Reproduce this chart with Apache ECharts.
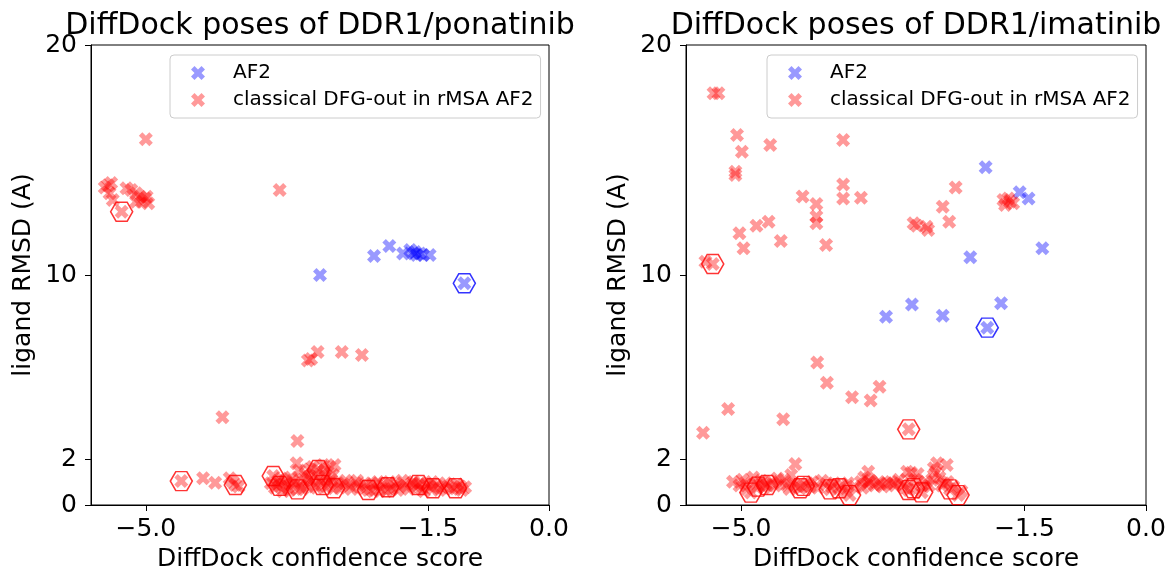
<!DOCTYPE html>
<html><head><meta charset="utf-8">
<script src="https://cdn.jsdelivr.net/npm/echarts@6/dist/echarts.min.js"></script>
<style>html,body{margin:0;padding:0;background:#fff}#c{width:1168px;height:573px}</style>
</head><body><div id="c"></div>
<script>
// ---------- data ----------
const panelTitles = ['DiffDock poses of DDR1/ponatinib', 'DiffDock poses of DDR1/imatinib'];
const seriesNames = ['AF2', 'classical DFG-out in rMSA AF2'];
const xTickValues = [-5.0, -1.5, 0.0];
const yTickValues = [0, 2, 10, 20];
const xName = 'DiffDock confidence score';
const yName = 'ligand RMSD (A)';

// ponatinib panel
const ponAF2 = [[-2.84,10.0],[-2.17,10.83],[-1.98,11.26],[-1.81,10.94],[-1.72,11.09],[-1.68,10.94],
  [-1.64,10.87],[-1.60,10.94],[-1.56,10.87],[-1.48,10.87],[-1.66,11.0]];
const ponAF2Top = [[-1.05,9.64]];
const ponDFG = [[-5.47,13.9],[-5.43,14.0],[-5.51,13.8],[-5.45,13.55],[-5.41,13.26],[-5.24,13.77],
  [-5.18,13.7],[-5.12,13.55],[-5.07,13.4],[-5.01,13.33],[-4.97,13.12],[-5.05,13.19],[-5.12,13.19],
  [-4.99,13.4],[-3.34,13.7],[-5.0,15.9],
  [-2.99,6.28],[-2.95,6.35],[-2.87,6.65],[-2.57,6.65],[-2.32,6.52],
  [-4.05,3.81],[-3.12,2.78],
  [-4.29,1.16],[-4.14,0.97],[-3.96,1.16],[-3.92,1.0],[-3.85,0.80],[-3.45,0.95],[-3.40,0.75],
  [-3.36,1.05],[-3.30,0.60],[-3.27,1.00],[-3.24,0.78],[-3.20,1.20],[-3.16,0.95],[-3.13,1.81],
  [-3.10,1.50],[-3.08,0.85],[-3.05,1.10],[-3.02,1.35],[-3.00,0.80],[-2.97,1.55],[-2.95,1.05],
  [-2.92,0.90],[-2.89,1.30],[-2.83,1.05],[-2.80,1.74],[-2.77,1.25],[-2.74,0.95],[-2.72,1.65],
  [-2.70,1.10],[-2.66,1.74],[-2.62,0.95],[-2.55,0.90],[-2.48,0.85],[-2.40,0.95],[-2.35,0.80],
  [-2.30,0.70],[-2.20,0.95],[-2.15,0.80],[-2.10,0.65],[-2.05,0.90],[-1.95,0.70],[-1.90,0.95],
  [-1.85,0.80],[-1.78,0.85],[-1.70,0.95],[-1.65,0.80],[-1.58,0.70],[-1.52,0.90],[-1.48,0.80],
  [-1.40,0.85],[-1.32,0.75],[-1.25,0.80],[-1.20,0.70],[-1.10,0.80],[-1.04,0.77],
  [-3.38,0.90],[-3.32,1.15],[-3.22,0.65],[-3.18,1.05],[-3.06,0.70],[-2.98,1.20],[-2.93,1.65],
  [-2.88,0.75],[-2.78,1.50],[-2.76,0.80],[-2.68,1.30],[-2.60,0.75],[-2.52,1.05],[-2.45,0.70],
  [-2.38,1.05],[-2.27,0.90],[-2.18,0.60],[-2.12,1.00],[-2.02,0.60],[-1.98,1.00],[-1.88,0.65],
  [-1.82,1.05],[-1.74,0.70],[-1.68,1.00],[-1.60,0.95],[-1.55,0.60],[-1.45,1.00],[-1.36,0.65],
  [-1.28,0.95],[-1.14,0.90],[-1.08,0.65]];
const ponDFGTop = [[-5.30,12.75],[-4.56,1.04],[-3.89,0.87],[-3.42,1.26],[-3.34,0.83],[-3.12,0.68],
  [-2.86,1.52],[-2.81,0.87],[-2.67,0.73],[-2.24,0.65],[-2.00,0.77],[-1.62,0.87],[-1.44,0.73],[-1.16,0.73]];

// imatinib panel
const imaAF2 = [[-3.21,8.19],[-2.89,8.72],[-2.51,8.23],[-1.79,8.77],[-2.17,10.77],[-1.98,14.68],
  [-1.56,13.6],[-1.45,13.33],[-1.28,11.16]];
const imaAF2Top = [[-1.96,7.71]];
const imaDFG = [[-5.34,17.9],[-5.28,17.9],[-5.05,16.09],[-4.99,15.36],[-5.07,14.49],[-5.07,14.35],
  [-4.64,15.65],[-3.74,15.87],[-5.02,11.81],[-4.97,11.16],[-4.81,12.14],[-4.66,12.32],[-4.51,11.48],
  [-4.24,13.41],[-4.07,13.09],[-4.07,12.54],[-4.07,12.25],[-3.95,11.3],[-3.74,13.94],[-3.74,13.33],
  [-3.52,13.36],[-2.87,12.25],[-2.83,12.14],[-2.71,12.1],[-2.69,11.96],[-2.51,12.97],[-2.43,12.32],
  [-2.35,13.8],[-1.76,13.26],[-1.70,13.33],[-1.64,13.12],[-1.68,13.19],[-1.74,13.04],
  [-5.44,10.58],[-5.47,3.14],[-5.16,4.17],[-4.48,3.73],[-4.06,6.2],[-3.94,5.32],[-3.63,4.68],
  [-3.40,4.54],[-3.29,5.14],
  [-5.10,1.01],[-5.02,0.85],[-4.98,1.10],[-4.93,0.70],[-4.85,1.20],[-4.82,0.95],[-4.75,1.05],
  [-4.70,0.90],[-4.62,1.00],[-4.58,0.85],[-4.52,0.95],[-4.47,1.10],[-4.43,0.85],[-4.38,1.30],
  [-4.35,0.95],[-4.33,1.78],[-4.30,0.80],[-4.18,0.95],[-4.12,1.00],[-4.05,0.75],[-4.00,1.05],
  [-3.95,0.90],[-3.85,0.95],[-3.75,0.85],[-3.70,0.60],[-3.60,0.80],[-3.52,1.00],[-3.48,1.20],
  [-3.45,0.90],[-3.43,1.45],[-3.40,1.05],[-3.35,0.85],[-3.30,1.00],[-3.25,0.80],[-3.20,0.95],
  [-3.15,1.00],[-3.10,0.85],[-3.05,1.10],[-3.00,0.90],[-2.95,1.45],[-2.90,1.40],[-2.82,1.35],
  [-2.72,1.00],[-2.68,0.85],[-2.62,1.60],[-2.58,1.81],[-2.55,1.20],[-2.50,0.95],[-2.46,1.74],
  [-2.38,0.80],[-2.28,0.60],
  [-4.95,0.95],[-4.72,0.75],[-4.55,1.15],[-4.40,0.70],[-4.15,0.80],[-3.88,0.80],[-3.68,0.95],
  [-3.50,0.75],[-3.42,1.00],[-3.28,0.90],[-3.12,0.95],[-2.98,0.75],[-2.85,1.10],[-2.75,0.80],
  [-2.64,1.10],[-2.60,1.40],[-2.52,0.85],[-2.45,1.00]];
const imaDFGTop = [[-5.35,10.48],[-2.93,3.29],[-4.88,0.54],[-4.79,0.80],[-4.68,0.87],[-4.27,0.73],
  [-4.23,0.83],[-3.90,0.68],[-3.79,0.73],[-3.66,0.43],[-2.93,0.65],[-2.87,0.73],[-2.77,0.55],
  [-2.42,0.68],[-2.32,0.43]];

// ---------- styling ----------
const FONT = 'DejaVu Sans';
const XPATH = 'path://M6,0L4,2L2,0L0,2L2,4L0,6L2,8L4,6L6,8L8,6L6,4L8,2Z';
const HEXPATH = 'path://M0,0.866L0.5,0L1.5,0L2,0.866L1.5,1.732L0.5,1.732Z';
const AF2_FILL = 'rgba(0,0,255,0.5)', DFG_FILL = 'rgba(255,0,0,0.5)';

const grids = [
  {left: 91, top: 45, width: 458, height: 460},
  {left: 686, top: 45, width: 460, height: 460}
];
const panels = [
  {af2: ponAF2, af2Top: ponAF2Top, dfg: ponDFG, dfgTop: ponDFGTop},
  {af2: imaAF2, af2Top: imaAF2Top, dfg: imaDFG, dfgTop: imaDFGTop}
];

function fmtX(v){ if (Math.abs(v) < 1e-9) return '0.0'; return (v < 0 ? '\u2212' : '') + Math.abs(v).toFixed(1); }

const option = {
  animation: false,
  backgroundColor: '#fff',
  grid: grids.map(g => Object.assign({show: true, borderColor: '#000', borderWidth: 1,
    backgroundColor: 'transparent', containLabel: false, outerBoundsMode: 'none'}, g)),
  xAxis: grids.map((g, i) => ({
    type: 'value', gridIndex: i, min: -5.68, max: 0,
    name: xName, nameLocation: 'middle', nameGap: 39,
    nameTextStyle: {fontFamily: FONT, fontSize: 25, color: '#000'},
    axisLine: {show: true, onZero: false, lineStyle: {color: '#000', width: 1}},
    axisTick: {show: true, length: 6, customValues: xTickValues, lineStyle: {color: '#000', width: 1}},
    axisLabel: {show: true, customValues: xTickValues, formatter: fmtX, margin: 12,
      fontFamily: FONT, fontSize: 25, color: '#000'},
    splitLine: {show: false}
  })),
  yAxis: grids.map((g, i) => ({
    type: 'value', gridIndex: i, min: 0, max: 20,
    name: yName, nameLocation: 'middle', nameGap: 55, nameRotate: 90,
    nameTextStyle: {fontFamily: FONT, fontSize: 25, color: '#000'},
    axisLine: {show: true, onZero: false, lineStyle: {color: '#000', width: 1}},
    axisTick: {show: true, length: 6, customValues: yTickValues, lineStyle: {color: '#000', width: 1}},
    axisLabel: {show: true, customValues: yTickValues, margin: 14,
      fontFamily: FONT, fontSize: 25, color: '#000'},
    splitLine: {show: false}
  })),
  legend: grids.map((g, i) => ({
    orient: 'vertical', left: i === 0 ? 170 : 767, top: 55,
    data: seriesNames.map(n => ({name: n, icon: XPATH})),
    itemWidth: 14, itemHeight: 14, itemGap: 7,
    padding: [8, 7, 8, 21],
    borderColor: '#cccccc', borderWidth: 1, borderRadius: 4,
    backgroundColor: 'rgba(255,255,255,0.8)',
    selectedMode: false,
    textStyle: {fontFamily: FONT, fontSize: 20, lineHeight: 20, color: '#000', padding: [0, 0, 0, 23]}
  })),
  graphic: grids.map((g, i) => ({
    type: 'text', x: g.left + g.width / 2, y: 26,
    style: {text: panelTitles[i], font: '30px "' + FONT + '"', fill: '#000',
      textAlign: 'center', textVerticalAlign: 'middle'}
  })),
  series: []
};

panels.forEach((p, i) => {
  option.series.push({
    type: 'scatter', name: seriesNames[0], xAxisIndex: i, yAxisIndex: i,
    symbol: XPATH, symbolSize: 14, data: p.af2.concat(p.af2Top),
    itemStyle: {color: AF2_FILL}, emphasis: {disabled: true}
  });
  option.series.push({
    type: 'scatter', name: seriesNames[1], xAxisIndex: i, yAxisIndex: i,
    symbol: XPATH, symbolSize: 14, data: p.dfg.concat(p.dfgTop),
    itemStyle: {color: DFG_FILL}, emphasis: {disabled: true}
  });
  option.series.push({
    type: 'scatter', name: 'AF2 top pose', xAxisIndex: i, yAxisIndex: i,
    symbol: HEXPATH, symbolSize: [22, 19], data: p.af2Top, z: 5,
    itemStyle: {color: 'rgba(0,0,0,0)', borderColor: '#0000ff', borderWidth: 1.5}, emphasis: {disabled: true}
  });
  option.series.push({
    type: 'scatter', name: 'DFG top pose', xAxisIndex: i, yAxisIndex: i,
    symbol: HEXPATH, symbolSize: [22, 19], data: p.dfgTop, z: 5,
    itemStyle: {color: 'rgba(0,0,0,0)', borderColor: '#ff0000', borderWidth: 1.5}, emphasis: {disabled: true}
  });
});

const chart = echarts.init(document.getElementById('c'), null, {renderer: 'canvas'});
chart.setOption(option);
</script>
</body></html>
